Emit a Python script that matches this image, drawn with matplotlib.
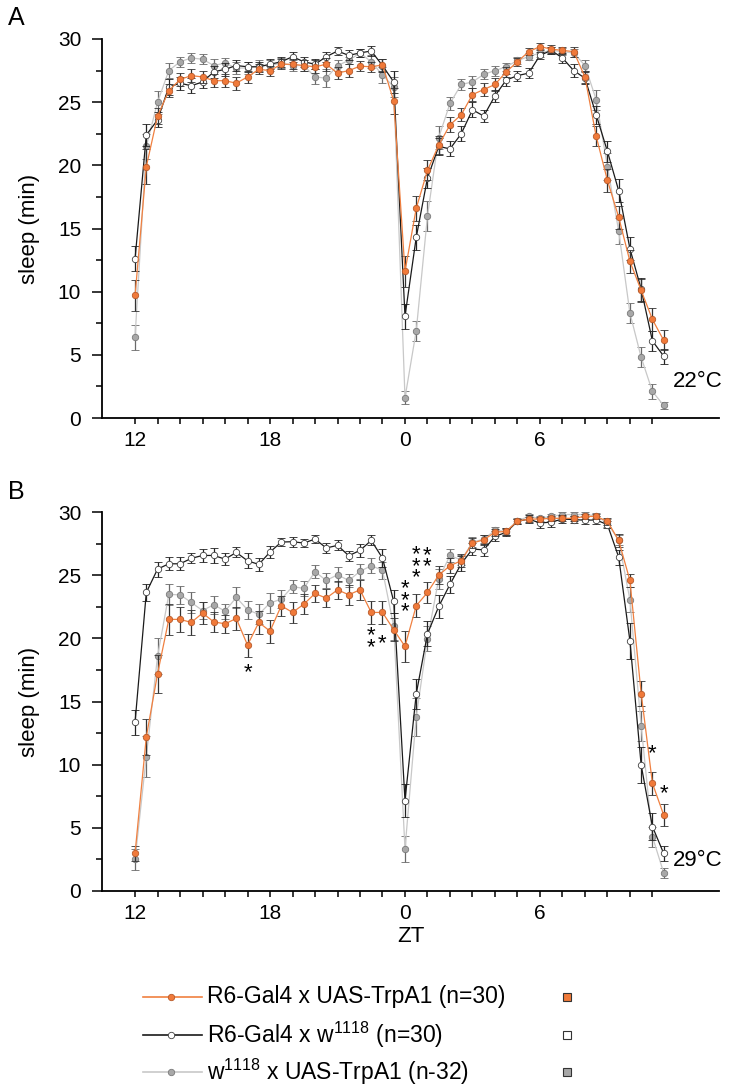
import numpy as np
import matplotlib.pyplot as plt
from matplotlib.lines import Line2D
from matplotlib.patches import Rectangle

plt.rcParams['font.family'] = ['Liberation Sans', 'DejaVu Sans']
plt.rcParams['mathtext.fontset'] = 'custom'
plt.rcParams['mathtext.rm'] = 'Liberation Sans'
plt.rcParams['mathtext.default'] = 'regular'

# half-hour bins, ZT12 (day 1) .. ZT11.5 (day 2), continuous hours
zt = np.arange(12, 36, 0.5)
xtick_pos = [12, 18, 24, 30]
xtick_lab = ['12', '18', '0', '6']

# ---- panel A, 22C ----
a_trp = [9.7, 19.9, 23.9, 25.9, 26.8, 27.1, 27.0, 26.7, 26.7, 26.5, 27.0, 27.6,
         27.5, 28.0, 28.0, 27.9, 27.8, 28.0, 27.3, 27.5, 27.85, 27.8, 27.95, 25.1,
         11.6, 16.6, 19.6, 21.6, 23.2, 24.0, 25.6, 26.0, 26.4, 27.4, 28.2, 29.0,
         29.4, 29.2, 29.1, 29.0, 27.0, 22.3, 18.8, 15.9, 12.4, 10.1, 7.8, 6.15]
a_trp_err = [1.2, 1.4, 0.6, 0.5, 0.5, 0.5, 0.5, 0.5, 0.5, 0.5, 0.5, 0.4,
             0.4, 0.4, 0.4, 0.4, 0.5, 0.5, 0.5, 0.5, 0.4, 0.4, 0.5, 1.0,
             1.2, 1.0, 0.8, 0.7, 0.6, 0.5, 0.5, 0.5, 0.5, 0.4, 0.3, 0.3,
             0.3, 0.3, 0.3, 0.4, 0.5, 0.8, 0.9, 0.9, 0.9, 0.9, 0.9, 0.8]
a_gal = [12.6, 22.4, 23.6, 26.2, 26.5, 26.3, 26.6, 27.4, 27.6, 27.9, 27.8, 27.8,
         28.0, 28.2, 28.6, 28.2, 28.0, 28.6, 29.05, 28.7, 28.9, 29.05, 27.9, 26.6,
         8.05, 14.3, 19.0, 21.5, 21.3, 22.5, 24.4, 23.9, 25.5, 26.75, 27.1, 27.3,
         28.7, 29.1, 28.5, 27.5, 26.9, 24.0, 21.1, 18.0, 13.4, 10.2, 6.1, 4.9]
a_gal_err = [1.0, 0.9, 0.6, 0.6, 0.5, 0.6, 0.5, 0.5, 0.5, 0.4, 0.4, 0.4,
             0.4, 0.4, 0.4, 0.4, 0.4, 0.4, 0.3, 0.4, 0.3, 0.4, 0.5, 0.9,
             1.0, 1.0, 0.8, 0.7, 0.6, 0.6, 0.6, 0.5, 0.5, 0.5, 0.4, 0.4,
             0.3, 0.3, 0.4, 0.5, 0.5, 0.7, 0.8, 0.9, 0.9, 0.9, 0.8, 0.6]
a_uas = [6.4, 21.5, 25.0, 27.5, 28.2, 28.5, 28.4, 27.9, 28.1, 27.7, 27.7, 27.9,
         27.9, 28.1, 27.9, 27.9, 27.0, 26.9, 27.9, 28.3, 28.9, 28.2, 27.15, 26.2,
         1.6, 6.9, 16.0, 22.2, 24.9, 26.4, 26.6, 27.2, 27.5, 27.8, 28.3, 28.6,
         28.9, 29.1, 29.0, 28.9, 27.9, 25.2, 19.9, 14.8, 8.3, 4.8, 2.1, 1.0]
a_uas_err = [1.0, 1.0, 0.9, 0.6, 0.4, 0.4, 0.4, 0.5, 0.4, 0.5, 0.5, 0.4,
             0.4, 0.4, 0.4, 0.4, 0.6, 0.7, 0.4, 0.3, 0.3, 0.5, 0.6, 0.8,
             0.5, 0.8, 1.2, 0.9, 0.5, 0.4, 0.5, 0.4, 0.4, 0.3, 0.3, 0.3,
             0.3, 0.3, 0.3, 0.3, 0.4, 0.8, 1.1, 1.0, 0.8, 0.8, 0.6, 0.3]

# ---- panel B, 29C ----
b_trp = [3.0, 12.2, 17.2, 21.5, 21.5, 21.26, 22.0, 21.3, 21.15, 21.57, 19.46, 21.26,
         20.57, 22.58, 22.05, 22.7, 23.55, 23.18, 23.84, 23.45, 23.84, 22.05, 22.05, 20.68,
         19.36, 22.58, 23.63, 25.0, 25.75, 26.14, 27.54, 27.8, 28.39, 28.47, 29.28, 29.44,
         29.44, 29.5, 29.5, 29.5, 29.65, 29.65, 29.26, 27.75, 24.58, 15.63, 8.53, 6.02]
b_trp_err = [0.6, 1.4, 1.5, 1.2, 1.0, 1.0, 0.9, 0.8, 0.7, 0.9, 0.9, 0.9,
             0.9, 0.8, 0.8, 0.8, 0.7, 0.7, 0.7, 0.8, 0.8, 0.9, 0.9, 0.9,
             1.2, 0.9, 0.8, 0.7, 0.6, 0.5, 0.4, 0.4, 0.3, 0.3, 0.2, 0.2,
             0.2, 0.2, 0.2, 0.2, 0.2, 0.2, 0.3, 0.5, 0.5, 1.0, 0.9, 0.9]
b_gal = [13.36, 23.63, 25.48, 25.9, 25.9, 26.33, 26.56, 26.56, 26.27, 26.8, 26.14, 25.85,
         26.83, 27.62, 27.65, 27.54, 27.86, 27.15, 27.36, 26.54, 26.96, 27.75, 26.35, 22.92,
         7.16, 15.6, 20.36, 22.52, 24.27, 25.9, 27.07, 27.0, 28.07, 28.39, 29.26, 29.44,
         29.13, 29.2, 29.44, 29.4, 29.35, 29.37, 29.0, 26.43, 19.8, 9.96, 5.1, 2.98]
b_gal_err = [1.0, 0.7, 0.6, 0.5, 0.5, 0.4, 0.5, 0.6, 0.5, 0.4, 0.6, 0.5,
             0.5, 0.3, 0.4, 0.3, 0.3, 0.4, 0.4, 0.4, 0.5, 0.4, 0.7, 0.9,
             1.3, 1.2, 1.0, 0.9, 0.7, 0.6, 0.5, 0.5, 0.4, 0.3, 0.2, 0.3,
             0.4, 0.4, 0.3, 0.3, 0.3, 0.3, 0.3, 0.6, 1.4, 1.4, 1.1, 0.6]
b_uas = [2.5, 10.64, 18.6, 23.47, 23.45, 22.84, 22.2, 22.66, 22.15, 23.24, 22.26, 21.9,
         22.8, 23.1, 24.1, 23.95, 25.27, 24.58, 25.03, 24.58, 25.3, 25.75, 25.38, 20.94,
         3.33, 13.8, 19.96, 24.7, 26.56, 26.2, 27.6, 27.86, 28.55, 28.47, 29.3, 29.65,
         29.5, 29.65, 29.8, 29.8, 29.8, 29.7, 29.13, 27.75, 23.05, 13.07, 4.3, 1.45]
b_uas_err = [0.8, 1.6, 1.4, 0.8, 0.7, 0.8, 0.7, 0.7, 0.6, 0.8, 0.7, 0.8,
             0.8, 0.7, 0.5, 0.6, 0.5, 0.6, 0.6, 0.5, 0.6, 0.6, 0.7, 1.1,
             1.0, 1.5, 1.0, 0.8, 0.5, 0.4, 0.4, 0.3, 0.3, 0.3, 0.2, 0.2,
             0.2, 0.2, 0.2, 0.2, 0.2, 0.2, 0.3, 0.4, 1.0, 1.2, 0.8, 0.4]

# significance marks in panel B: bin (continuous hour), centre height, count
star_x = [17.0, 22.5, 23.0, 24.0, 24.5, 25.0, 35.0, 35.5]
star_y = [17.3, 19.75, 19.6, 23.0, 25.7, 26.1, 10.9, 7.7]
star_n = [1, 2, 1, 3, 3, 2, 1, 1]

labels = ['R6-Gal4 x UAS-TrpA1 (n=30)',
          'R6-Gal4 x w$^{1118}$ (n=30)',
          'w$^{1118}$ x UAS-TrpA1 (n-32)']

# line colour, marker face, marker edge, errorbar colour, zorder
styles = {
    'trp': dict(color='#F08040', mfc='#F07A3A', mec='#B85A2A', ecolor='#333333', zorder=4),
    'gal': dict(color='#1A1A1A', mfc='white', mec='#404040', ecolor='#222222', zorder=3),
    'uas': dict(color='#C8C8C8', mfc='#A8A8A8', mec='#7A7A7A', ecolor='#6A6A6A', zorder=2),
}

W, H = 729, 1089
fig = plt.figure(figsize=(W / 100, H / 100), dpi=100)


def px(x, y):
    return x / W, 1 - y / H


def draw(ax, data, temp, temp_y):
    for key in ['uas', 'gal', 'trp']:
        y, err = data[key]
        s = styles[key]
        ax.errorbar(zt, y, yerr=err, color=s['color'], lw=0.9, marker='o', ms=4.6,
                    mfc=s['mfc'], mec=s['mec'], mew=0.6, ecolor=s['ecolor'],
                    elinewidth=0.9, capsize=3.2, capthick=0.9, zorder=s['zorder'])
    ax.set_xlim(10.53, 37.96)
    ax.set_ylim(0, 30)
    for sp in ['top', 'right']:
        ax.spines[sp].set_visible(False)
    for sp in ['left', 'bottom']:
        ax.spines[sp].set_linewidth(1.3)
    ax.set_xticks(np.arange(12, 36, 1))
    ax.set_xticklabels([xtick_lab[xtick_pos.index(t)] if t in xtick_pos else ''
                        for t in range(12, 36)])
    ax.set_yticks(np.arange(0, 31, 5))
    ax.set_yticks(np.arange(0, 30.1, 2.5), minor=True)
    ax.tick_params(axis='y', which='major', length=7, width=1.1, labelsize=15, pad=8)
    ax.tick_params(axis='y', which='minor', length=4, width=1.1)
    ax.tick_params(axis='x', which='major', length=4.5, width=1.1, labelsize=15, pad=5)
    ax.set_ylabel('sleep (min)', fontsize=16, labelpad=13)
    ax.text(35.9, temp_y, temp, fontsize=16, va='center', ha='left')


axA = fig.add_axes([102 / W, 1 - 418 / H, 617 / W, 379 / H])
draw(axA, {'trp': (a_trp, a_trp_err), 'gal': (a_gal, a_gal_err), 'uas': (a_uas, a_uas_err)},
     '22°C', 2.85)

axB = fig.add_axes([102 / W, 1 - 891 / H, 617 / W, 379 / H])
draw(axB, {'trp': (b_trp, b_trp_err), 'gal': (b_gal, b_gal_err), 'uas': (b_uas, b_uas_err)},
     '29°C', 2.45)
axB.set_xlabel('ZT', fontsize=16, labelpad=2)

for x, y, n in zip(star_x, star_y, star_n):
    axB.text(x, y, '\n'.join(['*'] * n), fontsize=16, ha='center', va='center',
             linespacing=0.42, zorder=6)

fig.text(*px(8, 18), 'A', fontsize=18, va='center', ha='left')
fig.text(*px(8, 492), 'B', fontsize=18, va='center', ha='left')

# legend drawn below panel B
rows = [997, 1035, 1072]
for key, lab, ry in zip(['trp', 'gal', 'uas'], labels, rows):
    s = styles[key]
    (x0, y0), (x1, _) = px(143, ry), px(202, ry)
    fig.add_artist(Line2D([x0, x1], [y0, y0], color=s['color'], lw=1.2,
                          transform=fig.transFigure))
    fig.add_artist(Line2D([px(171, ry)[0]], [y0], marker='o', ms=4.6, mfc=s['mfc'],
                          mec=s['mec'], mew=0.6, transform=fig.transFigure))
    fig.text(*px(207, ry), lab, fontsize=16.5, va='center', ha='left')
    fig.add_artist(Rectangle(px(563, ry + 4), 8 / W, 8 / H, facecolor=s['mfc'],
                             edgecolor='#333333', lw=0.8, transform=fig.transFigure))

fig.savefig('out.png', dpi=100)
